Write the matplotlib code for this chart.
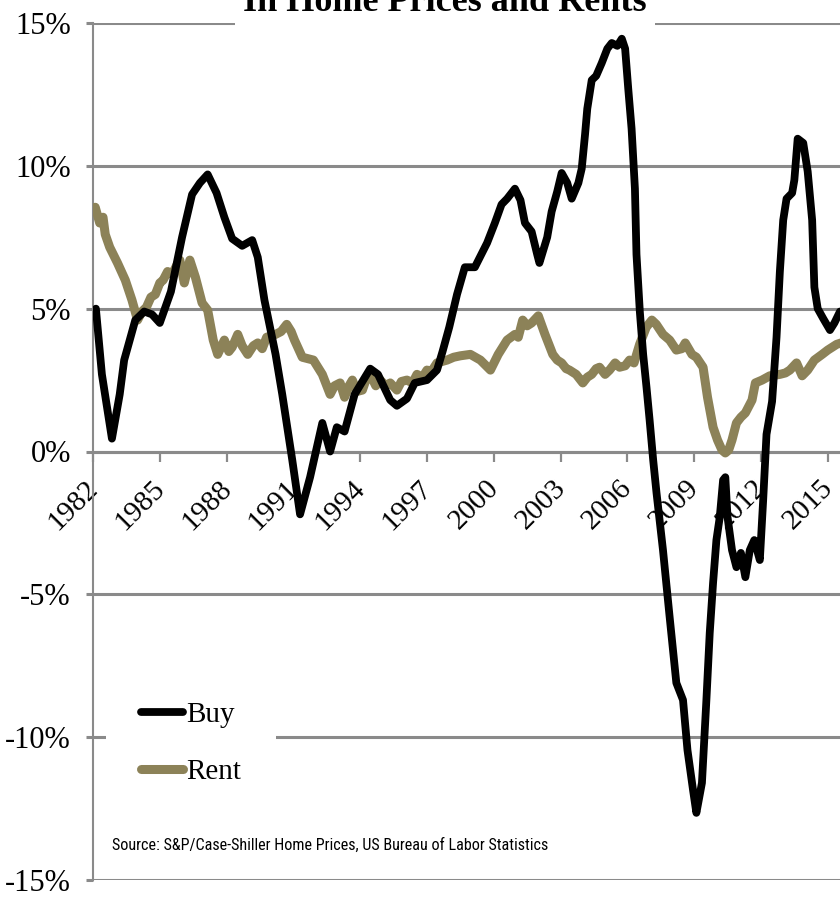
import matplotlib
matplotlib.use("Agg")
import matplotlib.pyplot as plt
from matplotlib.transforms import ScaledTranslation

# year-over-year change, percent
buy_years = [1982.13, 1982.4, 1982.85, 1983.2, 1983.4, 1983.9, 1984.3, 1984.65, 1985.0, 1985.5,
             1986.0, 1986.45, 1986.8, 1987.15, 1987.55, 1987.9, 1988.25, 1988.7, 1989.15, 1989.4,
             1989.7, 1990.2, 1990.5, 1990.95, 1991.3, 1991.75, 1992.3, 1992.65, 1992.95, 1993.3,
             1993.75, 1994.45, 1994.8, 1995.35, 1995.65, 1996.1, 1996.45, 1997.0, 1997.45, 1997.7,
             1998.0, 1998.35, 1998.7, 1999.15, 1999.7, 2000.05, 2000.35, 2000.6, 2000.95, 2001.2,
             2001.4, 2001.7, 2001.95, 2002.05, 2002.4, 2002.6, 2002.85, 2003.05, 2003.3, 2003.5,
             2003.8, 2003.95, 2004.1, 2004.2, 2004.4, 2004.6, 2004.85, 2005.1, 2005.3, 2005.55,
             2005.75, 2005.9, 2006.04, 2006.19, 2006.34, 2006.41, 2006.56, 2006.71, 2006.86, 2007.0,
             2007.16, 2007.31, 2007.6, 2007.9, 2008.2, 2008.5, 2008.7, 2008.95, 2009.1, 2009.35,
             2009.55, 2009.7, 2009.85, 2010.0, 2010.15, 2010.3, 2010.4, 2010.5, 2010.7, 2010.9,
             2011.1, 2011.3, 2011.5, 2011.7, 2011.95, 2012.1, 2012.25, 2012.5, 2012.7, 2012.85,
             2013.0, 2013.15, 2013.4, 2013.5, 2013.65, 2013.9, 2014.1, 2014.3, 2014.4, 2014.55,
             2014.8, 2015.1, 2015.3, 2015.55]
buy_pct = [5.0, 2.7, 0.45, 2.0, 3.2, 4.6, 4.9, 4.8, 4.5, 5.6,
           7.5, 9.0, 9.4, 9.7, 9.05, 8.2, 7.45, 7.2, 7.4, 6.8,
           5.3, 3.4, 2.0, -0.3, -2.2, -0.9, 1.0, 0.0, 0.85, 0.7,
           2.0, 2.9, 2.7, 1.8, 1.6, 1.85, 2.4, 2.5, 2.85, 3.5,
           4.35, 5.5, 6.45, 6.45, 7.3, 8.0, 8.65, 8.85, 9.2, 8.8,
           8.0, 7.7, 6.9, 6.6, 7.5, 8.4, 9.1, 9.75, 9.4, 8.85,
           9.4, 9.9, 11.1, 12.0, 13.0, 13.15, 13.6, 14.1, 14.3, 14.2,
           14.45, 14.1, 12.7, 11.3, 9.2, 6.9, 4.9, 3.4, 2.25, 1.1,
           -0.3, -1.45, -3.45, -5.8, -8.1, -8.7, -10.45, -11.85, -12.65, -11.6,
           -8.7, -6.35, -4.6, -3.1, -2.3, -1.0, -0.9, -2.3, -3.45, -4.05,
           -3.55, -4.4, -3.45, -3.1, -3.8, -1.7, 0.6, 1.75, 4.0, 6.3,
           8.1, 8.85, 9.05, 9.5, 10.95, 10.8, 9.8, 8.1, 5.75, 5.0,
           4.65, 4.25, 4.5, 4.9]

rent_years = [1982.1, 1982.3, 1982.45, 1982.55, 1982.75, 1983.1, 1983.45, 1983.75, 1984.0, 1984.2,
              1984.4, 1984.6, 1984.8, 1985.0, 1985.15, 1985.35, 1985.55, 1985.75, 1985.9, 1986.1,
              1986.35, 1986.6, 1986.9, 1987.15, 1987.4, 1987.6, 1987.9, 1988.1, 1988.25, 1988.5,
              1988.7, 1988.95, 1989.2, 1989.4, 1989.6, 1989.8, 1990.2, 1990.45, 1990.7, 1990.9,
              1991.05, 1991.4, 1991.9, 1992.3, 1992.65, 1992.85, 1993.1, 1993.3, 1993.5, 1993.65,
              1993.85, 1994.1, 1994.3, 1994.45, 1994.7, 1994.9, 1995.15, 1995.35, 1995.65, 1995.85,
              1996.1, 1996.35, 1996.55, 1996.8, 1997.0, 1997.2, 1997.45, 1997.9, 1998.2, 1998.5,
              1998.95, 1999.4, 1999.85, 2000.2, 2000.6, 2000.95, 2001.1, 2001.3, 2001.5, 2001.7,
              2002.0, 2002.3, 2002.65, 2002.85, 2003.05, 2003.25, 2003.4, 2003.7, 2004.0, 2004.2,
              2004.4, 2004.6, 2004.75, 2005.0, 2005.2, 2005.45, 2005.65, 2005.9, 2006.1, 2006.3,
              2006.55, 2006.85, 2007.1, 2007.3, 2007.6, 2007.9, 2008.2, 2008.45, 2008.6, 2008.9,
              2009.1, 2009.4, 2009.6, 2009.85, 2010.05, 2010.25, 2010.4, 2010.55, 2010.7, 2010.9,
              2011.1, 2011.3, 2011.6, 2011.75, 2012.05, 2012.4, 2012.85, 2013.1, 2013.3, 2013.6,
              2013.85, 2014.1, 2014.4, 2014.75, 2015.0, 2015.4, 2015.6]
rent_pct = [8.55, 8.0, 8.2, 7.6, 7.15, 6.6, 6.0, 5.3, 4.6, 4.9,
            5.05, 5.4, 5.5, 5.9, 6.0, 6.3, 6.2, 6.5, 6.7, 5.9,
            6.7, 6.1, 5.2, 4.95, 3.9, 3.4, 3.9, 3.5, 3.65, 4.1,
            3.7, 3.4, 3.7, 3.8, 3.6, 4.0, 4.1, 4.2, 4.45, 4.2,
            3.9, 3.3, 3.2, 2.7, 2.0, 2.3, 2.4, 1.9, 2.3, 2.5,
            2.1, 2.15, 2.6, 2.7, 2.3, 2.5, 2.3, 2.4, 2.15, 2.45,
            2.5, 2.4, 2.7, 2.6, 2.85, 2.8, 3.1, 3.2, 3.3, 3.35,
            3.4, 3.2, 2.85, 3.4, 3.9, 4.1, 4.0, 4.6, 4.4, 4.5,
            4.75, 4.1, 3.4, 3.2, 3.1, 2.9, 2.85, 2.7, 2.4, 2.6,
            2.7, 2.9, 2.95, 2.7, 2.85, 3.1, 2.95, 3.0, 3.2, 3.1,
            3.75, 4.35, 4.6, 4.45, 4.1, 3.9, 3.55, 3.6, 3.8, 3.4,
            3.3, 2.95, 1.9, 0.85, 0.4, 0.05, -0.05, 0.05, 0.4, 1.0,
            1.2, 1.35, 1.8, 2.4, 2.5, 2.65, 2.7, 2.75, 2.85, 3.1,
            2.65, 2.85, 3.2, 3.4, 3.55, 3.75, 3.8]

year_ticks = list(range(1982, 2016, 3))
pct_ticks = [15, 10, 5, 0, -5, -10, -15]

title = "In Home Prices and Rents"
source = "Source: S&P/Case-Shiller Home Prices, US Bureau of Labor Statistics"

buy_color = "#000000"
rent_color = "#8c8258"
grid_color = "#8a8a8a"
serif = "Liberation Serif"

W, H = 840, 901
fig = plt.figure(figsize=(W / 100, H / 100), dpi=100)
ax = fig.add_axes([93 / W, 21 / H, (850 - 93) / W, 857 / H])
ax.set_xlim(1982, 2016)
ax.set_ylim(-15, 15)
ax.patch.set_visible(False)

for s in ["top", "right"]:
    ax.spines[s].set_visible(False)
ax.spines["left"].set_color(grid_color)
ax.spines["left"].set_linewidth(1.5)
ax.spines["bottom"].set_position(("data", 0))
ax.spines["bottom"].set_color(grid_color)
ax.spines["bottom"].set_linewidth(2.2)

ax.set_yticks(pct_ticks)
ax.set_yticklabels([f"{v}%" for v in pct_ticks], family=serif, fontsize=22)
ax.yaxis.grid(True, color=grid_color, linewidth=2.2)
ax.tick_params(axis="y", direction="out", length=5, width=2.2, color=grid_color, pad=11)

ax.set_xticks(year_ticks)
ax.set_xticklabels([str(y) for y in year_ticks], family=serif, fontsize=21,
                   rotation=45, ha="right", va="top")
ax.tick_params(axis="x", direction="out", length=7, width=1.6, color=grid_color, pad=10)
shift = ScaledTranslation(10 / 100, 0, fig.dpi_scale_trans)
for lab in ax.get_xticklabels():
    lab.set_transform(lab.get_transform() + shift)

ax.plot(rent_years, rent_pct, color=rent_color, lw=6.5, solid_capstyle="round",
        solid_joinstyle="round", label="Rent", zorder=3)
ax.plot(buy_years, buy_pct, color=buy_color, lw=5.6, solid_capstyle="round",
        solid_joinstyle="round", label="Buy", zorder=4)

handles, labels = ax.get_legend_handles_labels()
leg = ax.legend(handles[::-1], labels[::-1], loc="upper left",
                bbox_to_anchor=(106 / W, 1 - 667 / H), bbox_transform=fig.transFigure,
                prop={"family": serif, "size": 21}, frameon=True, fancybox=False,
                handlelength=1.45, handletextpad=0.1, labelspacing=1.03, borderpad=1.2,
                borderaxespad=0)
leg.get_frame().set_facecolor("white")
leg.get_frame().set_edgecolor("none")
leg.get_frame().set_alpha(1)
leg.set_zorder(5)

fig.text(112 / W, 1 - 845 / H, source, family="Roboto Condensed", fontsize=11.6, va="center")

fig.text(445 / W, 1 - 11 / H, title, family=serif, fontweight="bold", fontsize=26,
         ha="center", va="baseline",
         bbox=dict(facecolor="white", edgecolor="none", pad=6))

fig.savefig("out.png", dpi=100)
